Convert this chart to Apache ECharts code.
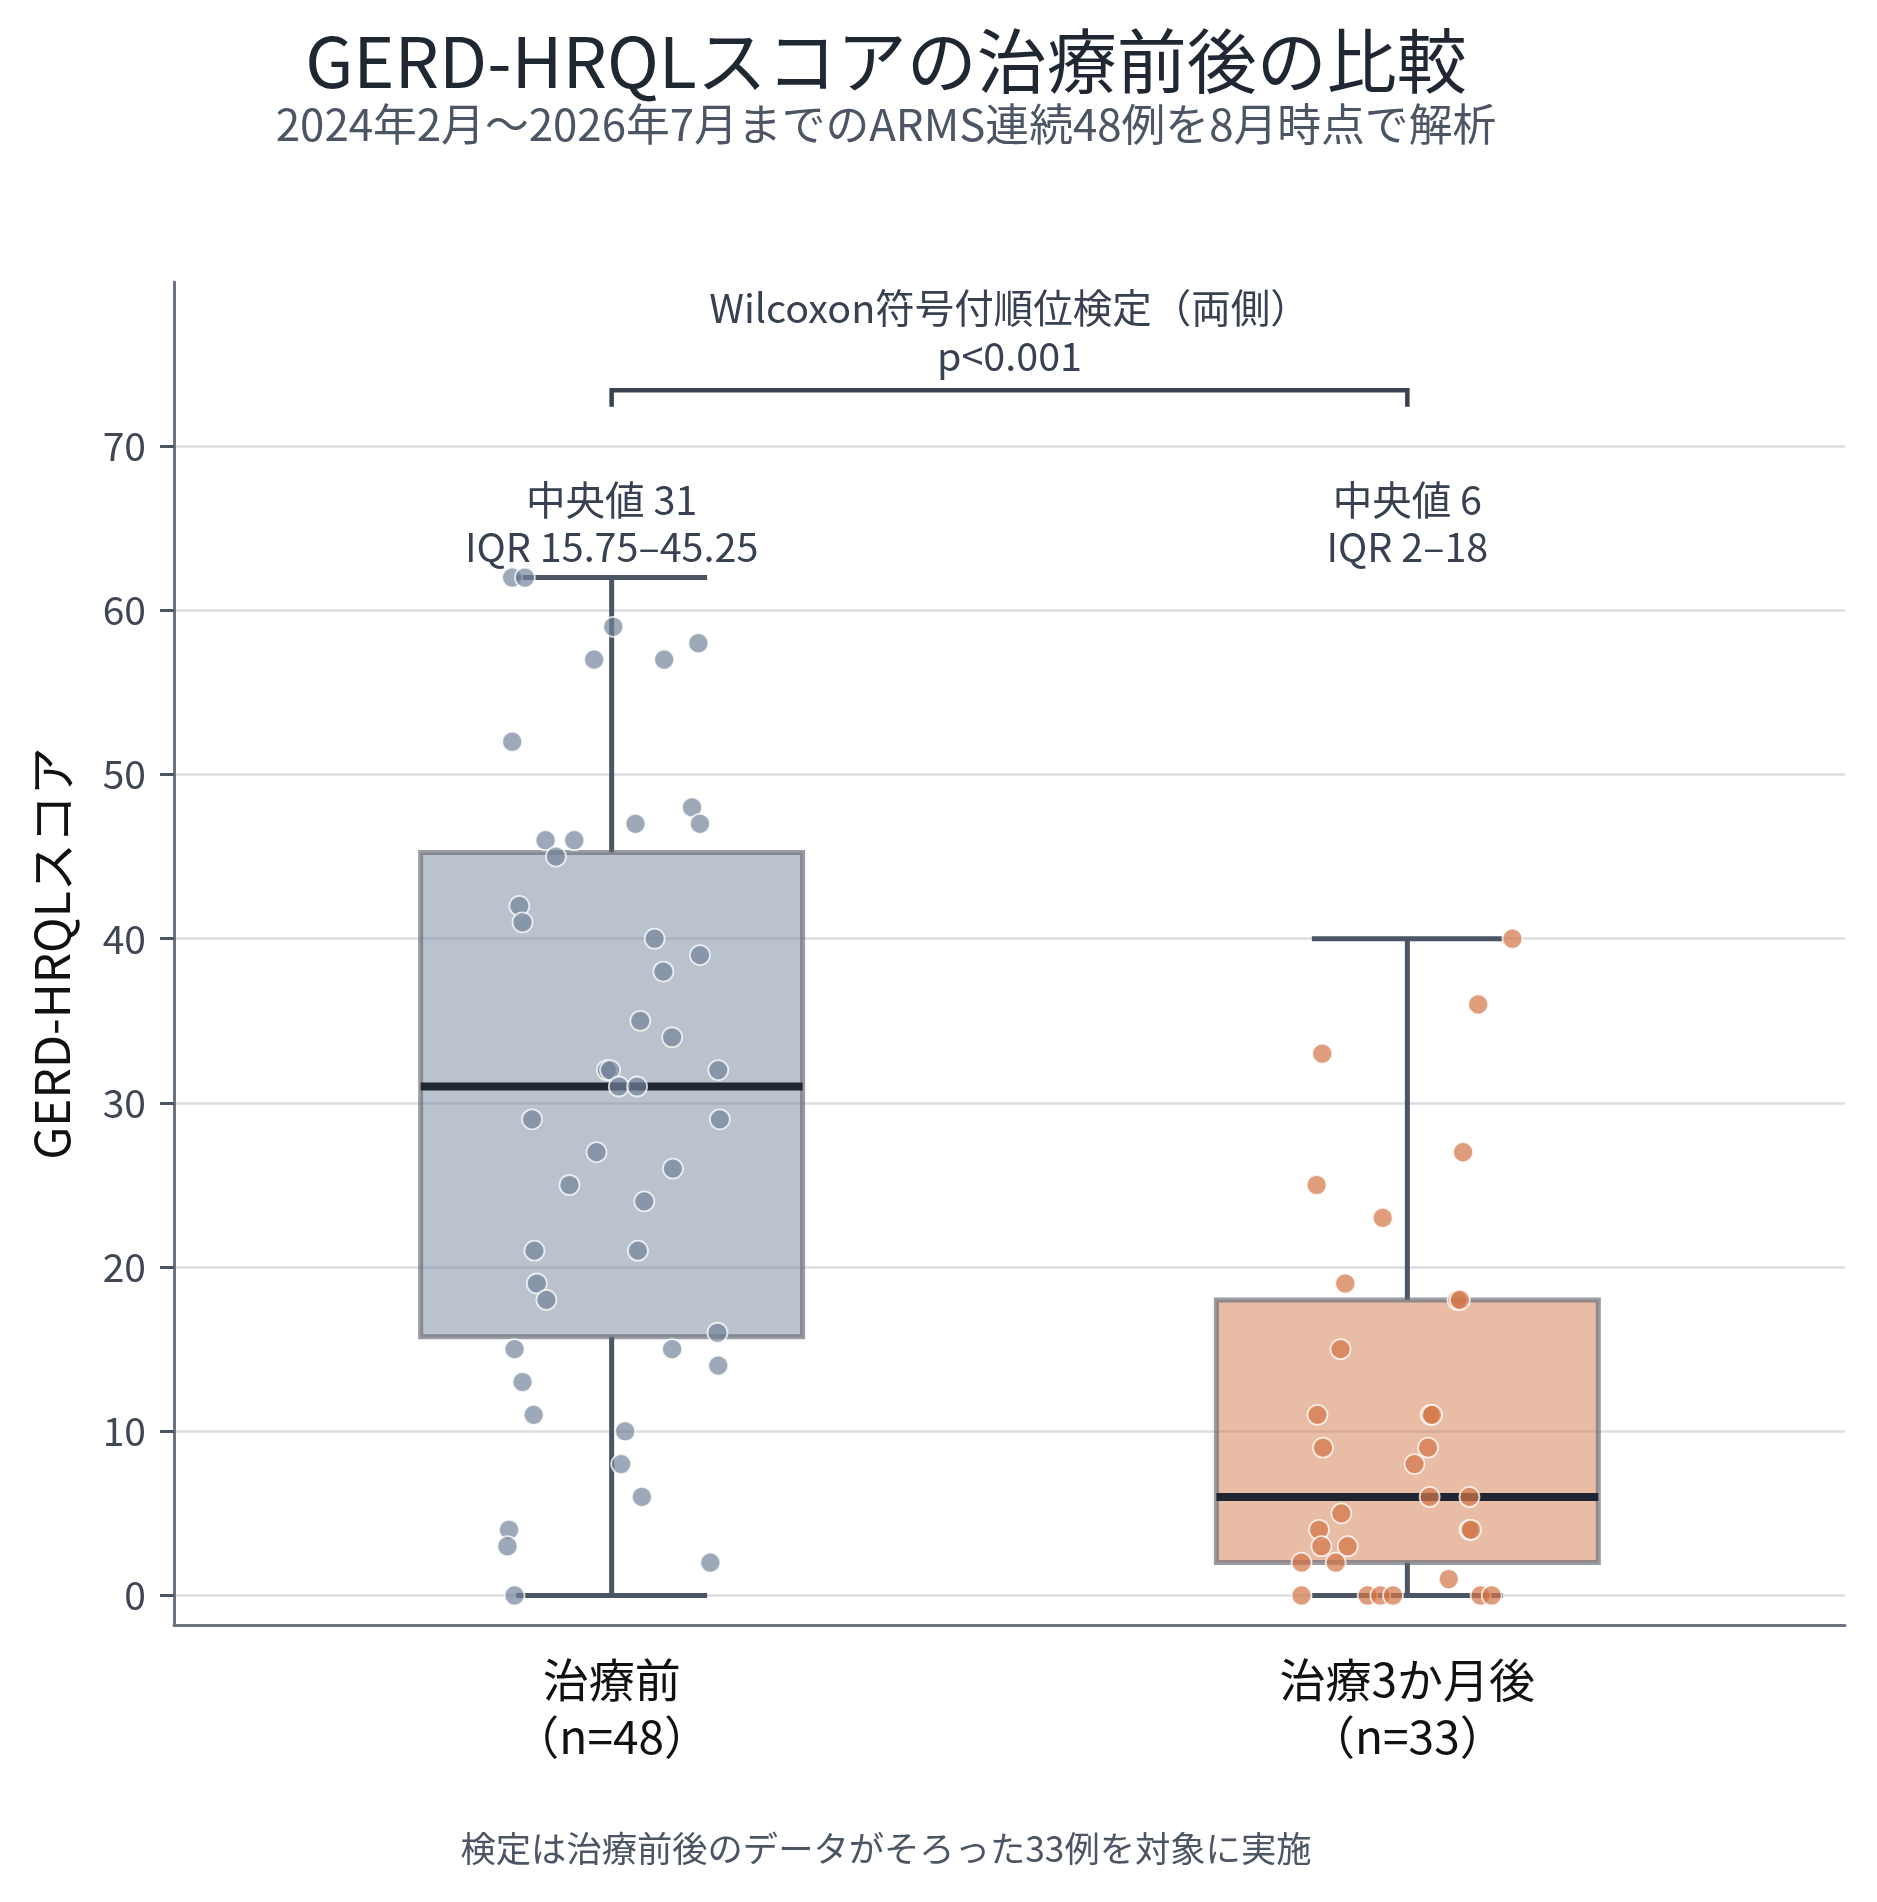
<!DOCTYPE html>
<html>
<head>
<meta charset="utf-8">
<script src="https://cdn.jsdelivr.net/npm/echarts@6/dist/echarts.min.js"></script>
<style>
html,body{margin:0;padding:0;background:#fff;}
#chart{width:1877px;height:1902px;}
</style>
</head>
<body>
<div id="chart"></div>
<script>
// ---- data ----
const categories = ['治療前\n（n=48）', '治療3か月後\n（n=33）'];
const yTicks = [0, 10, 20, 30, 40, 50, 60, 70];

const beforeScores = [62, 62, 59, 57, 57, 58, 52, 48, 47, 47, 46, 46, 45, 42, 41, 40, 39, 38, 35,
  34, 32, 32, 32, 31, 31, 29, 29, 27, 26, 25, 24, 21, 21, 19, 18, 16, 15, 15, 14, 13, 11, 10, 8, 6, 4, 3, 2, 0];
const beforeJitter = [-0.125, -0.109, 0.002, -0.022, 0.066, 0.109, -0.125, 0.101, 0.030, 0.111, -0.083, -0.047, -0.070, -0.116, -0.112, 0.054, 0.111, 0.065, 0.036,
  0.076, -0.006, -0.002, 0.134, 0.009, 0.032, -0.100, 0.136, -0.019, 0.077, -0.053, 0.041, -0.097, 0.033, -0.094, -0.082, 0.133, -0.122, 0.076, 0.134, -0.112, -0.098, 0.017, 0.012, 0.038, -0.129, -0.131, 0.124, -0.122];

const afterScores = [40, 36, 33, 27, 25, 23, 19, 18, 18, 15, 11, 11, 11, 9, 9, 8, 6, 6, 5, 4, 4, 4, 3, 3, 2, 2, 1, 0, 0, 0, 0, 0, 0];
const afterJitter = [0.132, 0.089, -0.107, 0.070, -0.114, -0.031, -0.078, 0.063, 0.066, -0.084, -0.113, 0.029, 0.031, -0.106, 0.026, 0.009, 0.028, 0.078, -0.083, -0.111, 0.078, 0.080, -0.108, -0.075, -0.133, -0.090, 0.052, -0.133, -0.050, -0.034, -0.018, 0.092, 0.106];

const boxMin = [0, 0];
const boxQ1 = [15.75, 2];
const boxMedian = [31, 6];
const boxQ3 = [45.25, 18];
const boxMax = [62, 40];

const summaryLabels = ['中央値 31\nIQR 15.75–45.25', '中央値 6\nIQR 2–18'];
const testLabel = 'Wilcoxon符号付順位検定（両側）\np<0.001';

const titleText = 'GERD-HRQLスコアの治療前後の比較';
const subtitleText = '2024年2月～2026年7月までのARMS連続48例を8月時点で解析';
const footnoteText = '検定は治療前後のデータがそろった33例を対象に実施';
const yAxisName = 'GERD-HRQLスコア';

// ---- layout / style ----
const FONT = '"Noto Sans CJK JP", "Noto Sans CJK SC", sans-serif';
const BOX_HALF = 0.24, CAP_HALF = 0.12;
const boxFills = ['rgba(117,134,156,0.5)', 'rgba(210,122,76,0.5)'];
const pointColors = ['rgba(114,131,153,0.87)', 'rgba(210,119,74,0.9)'];
const SUMMARY_Y = 65.28, TEST_Y = 76.95, BRACKET_Y = 73.4, BRACKET_TICK = 72.4;

const chart = echarts.init(document.getElementById('chart'), null, {renderer: 'canvas'});

const boxData = categories.map((c, i) => [i, boxMin[i], boxQ1[i], boxMedian[i], boxQ3[i], boxMax[i]]);

const option = {
  backgroundColor: '#ffffff',
  animation: false,
  textStyle: {fontFamily: FONT},
  grid: {left: 174, right: 32, top: 282, bottom: 277, containLabel: false},
  graphic: [
    {type: 'text', x: 886, y: 61, style: {text: titleText, fill: '#1f2733', font: '400 70px ' + FONT, align: 'center', verticalAlign: 'middle', textAlign: 'center', textVerticalAlign: 'middle'}},
    {type: 'text', x: 886, y: 124, style: {text: subtitleText, fill: '#4b5563', font: '400 43.8px ' + FONT, align: 'center', verticalAlign: 'middle', textAlign: 'center', textVerticalAlign: 'middle'}},
    {type: 'text', x: 886, y: 1849, style: {text: footnoteText, fill: '#4b5563', font: '400 35.3px ' + FONT, align: 'center', verticalAlign: 'middle', textAlign: 'center', textVerticalAlign: 'middle'}}
  ],
  xAxis: {
    type: 'value', min: -0.55, max: 1.55,
    splitLine: {show: false},
    axisLine: {show: true, onZero: false, lineStyle: {color: '#6b7280', width: 3}},
    axisTick: {show: false},
    axisLabel: {
      show: true, customValues: [0, 1], margin: 26,
      formatter: v => categories[Math.round(v)] || '',
      color: '#111111', fontSize: 46, lineHeight: 57, fontFamily: FONT
    }
  },
  yAxis: {
    type: 'value', min: -1.8, max: 80,
    name: yAxisName, nameLocation: 'middle', nameGap: 98, nameRotate: 90,
    nameTextStyle: {color: '#111111', fontSize: 48, fontFamily: FONT},
    splitLine: {show: false},
    axisLine: {show: true, onZero: false, lineStyle: {color: '#6b7280', width: 3}},
    axisTick: {show: true, customValues: yTicks, length: 14, lineStyle: {color: '#4b5563', width: 3}},
    axisLabel: {customValues: yTicks, margin: 28, color: '#3f4654', fontSize: 39, fontFamily: FONT}
  },
  series: [
    {
      type: 'line', data: [], silent: true,
      markLine: {
        silent: true, symbol: 'none', z: 0, animation: false,
        label: {show: false},
        lineStyle: {color: '#dcdde3', width: 2.5, type: 'solid'},
        data: yTicks.map(v => ({yAxis: v}))
      }
    },
    {
      type: 'custom', z: 2, silent: true,
      data: boxData,
      encode: {x: 0, y: [1, 2, 3, 4, 5]},
      renderItem: function (params, api) {
        const x = api.value(0);
        const lo = api.value(1), q1 = api.value(2), med = api.value(3), q3 = api.value(4), hi = api.value(5);
        const i = params.dataIndex;
        const tl = api.coord([x - BOX_HALF, q3]);
        const br = api.coord([x + BOX_HALF, q1]);
        const ln = (a, b) => ({x1: a[0], y1: a[1], x2: b[0], y2: b[1]});
        const whisk = {stroke: '#4b5563', lineWidth: 5};
        return {
          type: 'group',
          children: [
            {type: 'line', shape: ln(api.coord([x, q3]), api.coord([x, hi])), style: whisk},
            {type: 'line', shape: ln(api.coord([x, q1]), api.coord([x, lo])), style: whisk},
            {type: 'line', shape: ln(api.coord([x - CAP_HALF, hi]), api.coord([x + CAP_HALF, hi])), style: whisk},
            {type: 'line', shape: ln(api.coord([x - CAP_HALF, lo]), api.coord([x + CAP_HALF, lo])), style: whisk},
            {type: 'rect', shape: {x: tl[0], y: tl[1], width: br[0] - tl[0], height: br[1] - tl[1]},
              style: {fill: boxFills[i], stroke: 'rgba(105,109,119,0.68)', lineWidth: 5}},
            {type: 'line', shape: ln(api.coord([x - BOX_HALF, med]), api.coord([x + BOX_HALF, med])),
              style: {stroke: '#1f2631', lineWidth: 8}}
          ]
        };
      }
    },
    {
      type: 'scatter', z: 3, silent: true,
      symbolSize: 20,
      itemStyle: {color: pointColors[0], borderColor: 'rgba(255,255,255,0.95)', borderWidth: 1.8},
      data: beforeScores.map((v, k) => [0 + beforeJitter[k], v])
    },
    {
      type: 'scatter', z: 3, silent: true,
      symbolSize: 20,
      itemStyle: {color: pointColors[1], borderColor: 'rgba(255,255,255,0.95)', borderWidth: 1.8},
      data: afterScores.map((v, k) => [1 + afterJitter[k], v])
    },
    {
      type: 'custom', z: 4, silent: true,
      data: [[0, 1]],
      encode: {x: [0, 1]},
      renderItem: function (params, api) {
        const a = api.value(0), b = api.value(1);
        const p1 = api.coord([a, BRACKET_TICK]), p2 = api.coord([a, BRACKET_Y]);
        const p3 = api.coord([b, BRACKET_Y]), p4 = api.coord([b, BRACKET_TICK]);
        const mid = api.coord([(a + b) / 2, TEST_Y]);
        return {
          type: 'group',
          children: [
            {type: 'polyline', shape: {points: [p1, p2, p3, p4]}, style: {stroke: '#3a4250', lineWidth: 4.5, fill: null}},
            {type: 'text', x: mid[0], y: mid[1], style: {text: testLabel, fill: '#374151', font: '400 39.5px ' + FONT, lineHeight: 48, align: 'center', verticalAlign: 'middle'}}
          ]
        };
      }
    },
    {
      type: 'custom', z: 4, silent: true,
      data: summaryLabels.map((s, i) => [i]),
      encode: {x: 0},
      renderItem: function (params, api) {
        const p = api.coord([api.value(0), SUMMARY_Y]);
        return {type: 'text', x: p[0], y: p[1],
          style: {text: summaryLabels[params.dataIndex], fill: '#374151', font: '400 39.5px ' + FONT, lineHeight: 47, align: 'center', verticalAlign: 'middle'}};
      }
    }
  ]
};
chart.setOption(option);
</script>
</body>
</html>
